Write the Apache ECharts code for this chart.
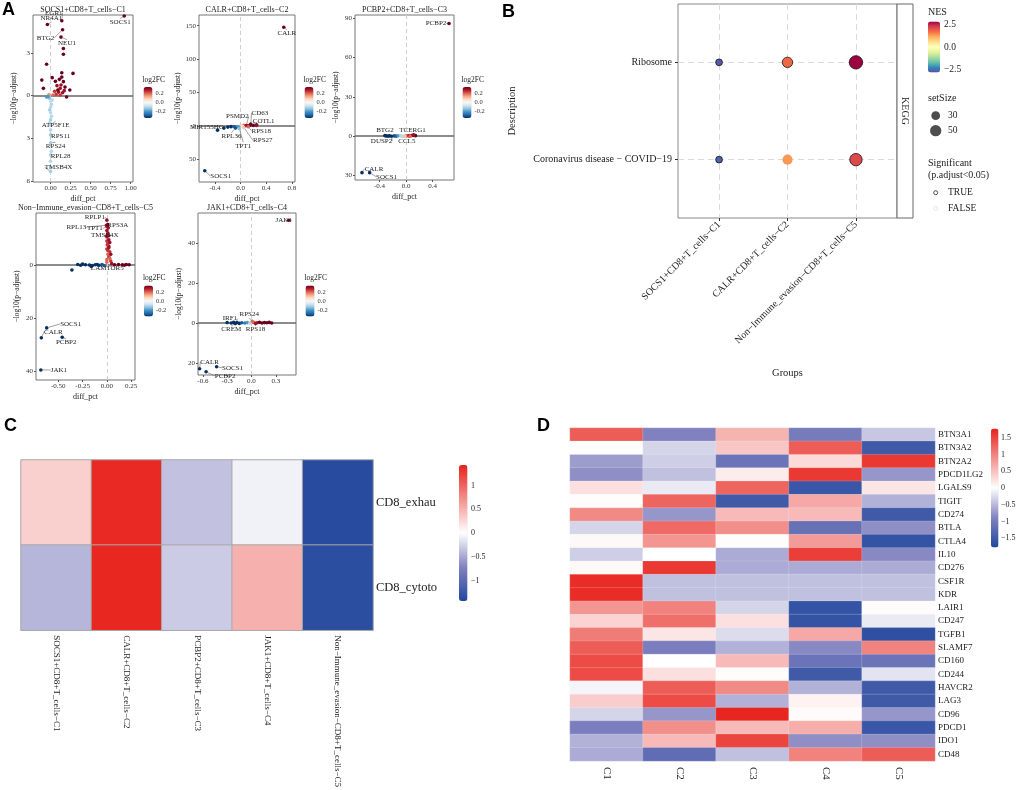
<!DOCTYPE html>
<html><head><meta charset="utf-8">
<script src="https://cdn.jsdelivr.net/npm/echarts@6/dist/echarts.min.js"></script>
<style>html,body{margin:0;padding:0;background:#fff}#main{width:1020px;height:790px}</style>
</head><body><div id="main"></div>
<script>
const SERIF = 'Liberation Serif';
// ---------------- Panel A data: [diff_pct, signed -log10(p-adjust), log2FC] ----------------
const c1Points = [
 [0.16,3.3,0.5],[0.16,2.9,0.5],[-0.05,2.2,0.45],[0.28,1.56,0.4],[0.02,1.26,0.4],[-0.11,1.09,0.4],
 [0.14,1.6,0.35],[0.11,1.14,0.35],[0.16,0.98,0.35],[0.12,0.51,0.3],[-0.09,0.51,0.35],[0.24,0.4,0.4],
 [0.08,0.7,0.3],[0.13,0.75,0.3],[0.05,0.3,0.25],[0.1,0.25,0.3],[0.15,0.2,0.3],[0.17,0.35,0.3],
 [0.2,-0.1,0.4],[0.07,0.1,0.25],[0.03,0.05,0.2],[0.12,0.05,0.25],[-0.02,0.08,0.15],[0.09,0.4,0.35],
 [0.18,0.6,0.35],[0.06,1.0,0.35],[0.14,1.3,0.4],
 [-0.01,-0.2,-0.1],[0.0,-0.4,-0.08],[0.01,-0.6,-0.1],[0.0,-0.8,-0.1],[-0.01,-1.0,-0.12],[0.0,-1.2,-0.1],
 [0.01,-1.45,-0.1],[0.0,-1.7,-0.12],[-0.01,-1.9,-0.1],[0.0,-2.4,-0.1],[-0.02,-0.15,-0.15],[0.02,-0.3,-0.1],
 [-0.03,-0.05,-0.2],[-0.05,-0.1,-0.2],[0.01,-3.9,-0.1],[0.0,-4.6,-0.1],[0.0,-5.0,-0.1]
];
const c1Genes = [
 ['SOCS1',0.92,5.58,0.5],['EGR1',0.14,5.25,0.4],['NR4A1',-0.04,4.98,0.45],['BTG2',0.15,4.62,0.4],
 ['NEU1',0.13,4.1,0.35],['ATP5F1E',0.0,-2.05,-0.1],['RPS11',0.0,-2.75,-0.12],['RPS24',0.0,-3.3,-0.12],
 ['RPL28',0.0,-4.15,-0.1],['TMSB4X',0.0,-5.3,-0.12]
];
const c2Points = [
 [-0.36,-6,-0.4],[0.0,0.5,0.1],[0.05,1.2,0.2],[0.1,0.8,0.3],[0.15,1.5,0.35],[0.2,1.0,0.35],[0.25,2.0,0.4],
 [0.07,0.3,0.2],[-0.05,-0.5,-0.2],[-0.1,-1.0,-0.3],[-0.15,-0.8,-0.35],[-0.2,-1.5,-0.4],[0.03,-0.3,0.05],
 [-0.03,-1.5,-0.2],[0.12,0.4,0.3]
];
const c2Genes = [
 ['CALR',0.675,147.6,0.5],['SOCS1',-0.56,-66.7,-0.5],['PSMD2',0.09,1,0.3],['CD63',0.16,3,0.35],
 ['COTL1',0.25,1,0.3],['RPS18',0.12,-1,0.2],['RPS27',0.05,-2,0.1],['TPT1',-0.02,-4,-0.15],
 ['RPL36',-0.08,-3,-0.3],['MIR155HG',-0.26,-3,-0.4]
];
const c3Points = [
 [-0.3,0.1,-0.45],[-0.27,-0.1,-0.4],[-0.25,0.2,-0.45],[-0.18,0.1,-0.3],[-0.15,-0.1,-0.3],[-0.12,0.2,-0.2],
 [-0.08,0.1,-0.1],[-0.05,-0.2,-0.1],[0.0,0.3,0.2],[0.03,0.2,0.25],[0.05,0.1,0.3],[0.08,0.4,0.35],
 [0.12,0.5,0.4],[0.14,0.3,0.4],[-0.02,0.1,0.1],[0.06,-0.1,0.2]
];
const c3Genes = [
 ['PCBP2',0.645,86,0.5],['CALR',-0.665,-28,-0.5],['SOCS1',-0.55,-28,-0.5],['BTG2',-0.32,0.3,-0.4],
 ['DUSP2',-0.22,-0.2,-0.35],['TCERG1',0.11,0.9,0.3],['CCL5',-0.02,-0.3,0.1]
];
const c5Points = [
 [0.0,13,0.3],[0.01,12,0.3],[0.02,11,0.3],[0.0,9,0.25],[0.01,8,0.25],[0.02,7,0.3],[0.0,6,0.25],
 [0.03,5,0.25],[0.01,4,0.2],[0.02,3,0.25],[0.0,2,0.2],[0.04,1.5,0.25],[0.03,2.5,0.2],[0.01,5.5,0.25],
 [0.02,9.5,0.3],[0.0,11,0.3],[0.015,14,0.3],[0.005,7.5,0.25],[0.03,8.5,0.3],[0.02,6.5,0.3],[0.04,4,0.3],
 [0.0,1,0.2],[0.05,0.5,0.3],
 [-0.3,0.2,-0.45],[-0.27,-0.1,-0.45],[-0.22,0.1,-0.4],[-0.18,0.0,-0.4],[-0.12,0.1,-0.4],[-0.08,-0.1,-0.35],
 [-0.05,0.2,-0.3],[-0.03,-0.2,-0.3],[-0.36,-1.9,-0.45],[-0.15,-0.2,-0.4],[-0.25,0.3,-0.4],[-0.1,0.2,-0.35],
 [0.08,0.1,0.35],[0.12,0.2,0.35],[0.16,0.1,0.4],[0.2,0.15,0.4],[0.23,0.1,0.45],[0.18,-0.1,0.4]
];
const c5Genes = [
 ['RPLP1',0.0,16.9,0.3],['RPL13',-0.005,15,0.3],['TPT1',0.0,14.5,0.3],['RPS3A',0.01,15.2,0.35],
 ['TMSB4X',0.0,10.6,0.3],['LAMTOR5',-0.16,-0.6,-0.4],['SOCS1',-0.62,-23.75,-0.5],['CALR',-0.675,-27.5,-0.5],
 ['PCBP2',-0.46,-27.3,-0.5],['JAK1',-0.68,-39.6,-0.5]
];
const c4Points = [
 [-0.3,0.2,-0.4],[-0.25,0.0,-0.4],[-0.22,0.3,-0.35],[-0.15,-0.2,-0.35],[-0.12,0.1,-0.3],[-0.08,0.0,-0.25],
 [-0.05,0.2,-0.2],[-0.02,-0.1,-0.1],[0.03,0.3,0.2],[0.07,0.1,0.3],[0.1,0.4,0.35],[0.13,0.0,0.35],
 [0.16,0.2,0.4],[0.19,0.1,0.4],[0.22,0.3,0.45],[0.25,0.0,0.45]
];
const c4Genes = [
 ['JAK1',0.46,51.4,0.5],['IRF1',-0.18,0.2,-0.4],['RPS24',0.01,0.85,0.2],['CREM',-0.2,-0.3,-0.4],
 ['RPS18',0.05,-0.3,0.3],['CALR',-0.64,-22.9,-0.5],['SOCS1',-0.43,-21.9,-0.5],['PCBP2',-0.56,-24.4,-0.5]
];
const volcanoTitles = ['SOCS1+CD8+T_cells−C1','CALR+CD8+T_cells−C2','PCBP2+CD8+T_cells−C3',
  'Non−Immune_evasion−CD8+T_cells−C5','JAK1+CD8+T_cells−C4'];
const fcTicks = [0.2, 0.0, -0.2];

// ---------------- Panel B data ----------------
const bGroups = ['SOCS1+CD8+T_cells−C1','CALR+CD8+T_cells−C2','Non−Immune_evasion−CD8+T_cells−C5'];
const bTerms = ['Coronavirus disease − COVID−19','Ribosome'];
const nesCovid = [-2.6, 1.3, 2.1];
const nesRibosome = [-2.7, 1.75, 2.8];
const sizeCovid = [18, 40, 60];
const sizeRibosome = [18, 42, 70];
const sigCovid = [true, false, true];
const sigRibosome = [true, true, true];
const nesTicks = [2.5, 0.0, -2.5];
const setSizeLegend = [30, 50];

// ---------------- Panel C data ----------------
const cGroups = ['SOCS1+CD8+T_cells−C1','CALR+CD8+T_cells−C2','PCBP2+CD8+T_cells−C3','JAK1+CD8+T_cells−C4','Non−Immune_evasion−CD8+T_cells−C5'];
const cRows = ['CD8_exhau','CD8_cytoto'];
const cExhau = [0.3, 1.38, -0.35, -0.08, -1.38];
const cCytoto = [-0.42, 1.4, -0.3, 0.5, -1.35];
const cTicks = [1, 0.5, 0, -0.5, -1];

// ---------------- Panel D data ----------------
const dCols = ['C1','C2','C3','C4','C5'];
const dGenes = ['BTN3A1','BTN3A2','BTN2A2','PDCD1LG2','LGALS9','TIGIT','CD274','BTLA','CTLA4','IL10','CD276','CSF1R','KDR',
  'LAIR1','CD247','TGFB1','SLAMF7','CD160','CD244','HAVCR2','LAG3','CD96','PDCD1','IDO1','CD48'];
const dC1 = [1.3,0.02,-0.7,-0.8,0.25,0.02,0.95,-0.3,0.05,-0.35,0.05,1.7,1.7,0.85,0.35,1.05,1.3,1.45,1.45,-0.08,0.4,-0.3,-0.95,-0.55,-0.6];
const dC2 = [-0.9,-0.3,-0.35,-0.45,-0.15,1.25,-0.75,1.2,0.85,0.0,1.6,-0.45,-0.45,1.0,1.15,0.2,-0.95,0.0,0.25,1.3,1.45,-0.75,0.9,0.55,-1.2];
const dC3 = [0.6,0.45,-1.1,0.15,1.25,-1.5,0.55,0.9,0.02,-0.6,-0.6,-0.45,-0.45,-0.3,0.25,-0.25,-0.55,0.55,0.02,0.95,-0.55,1.75,0.55,1.5,-0.45];
const dC4 = [-1.0,1.3,0.3,1.6,-1.55,0.7,0.55,-1.15,0.8,1.55,-0.6,-0.45,-0.45,-1.6,-1.6,0.7,-0.85,-1.1,-1.5,-0.55,0.1,0.03,0.65,-0.8,1.0];
const dC5 = [-0.4,-1.5,1.6,-0.75,0.2,-0.55,-1.5,-0.8,-1.6,-0.85,-0.6,-0.45,-0.45,0.03,-0.15,-1.65,1.0,-1.1,-0.2,-1.5,-1.5,-0.75,-1.55,-0.8,1.3];
const dTicks = [1.5, 1, 0.5, 0, -0.5, -1, -1.5];

// ---------------- styling / layout (not data) ----------------
const RdBu = ['#053061','#2166ac','#4393c3','#92c5de','#d1e5f0','#f7f7f7','#fddbc7','#f4a582','#d6604d','#b2182b','#67001f'];
const Spectral = ['#5e4fa2','#3288bd','#66c2a5','#abdda4','#e6f598','#ffffbf','#fee08b','#fdae61','#f46d43','#d53e4f','#9e0142'];
const heatCols = ['#21479d','#8282c0','#ffffff','#f2908c','#e8221c'];

const vGrids = [
  {left:33, top:15, width:100, height:167},
  {left:199, top:15, width:96, height:167},
  {left:355, top:15, width:99, height:165},
  {left:36, top:213, width:99, height:167},
  {left:198, top:213, width:98, height:162}
];
const vX = [
  {min:-0.22, max:1.03, ticks:[0,0.25,0.5,0.75,1], dec:2},
  {min:-0.65, max:0.85, ticks:[-0.4,0,0.4,0.8], dec:1},
  {min:-0.77, max:0.72, ticks:[-0.4,0,0.4], dec:1},
  {min:-0.73, max:0.29, ticks:[-0.5,-0.25,0,0.25], dec:2},
  {min:-0.66, max:0.55, ticks:[-0.6,-0.3,0,0.3], dec:1}
];
const vY = [
  {min:-6.05, max:5.65, ticks:[-6,-3,0,3]},
  {min:-83.5, max:166, ticks:[-50,0,50,100,150]},
  {min:-33.6, max:92.5, ticks:[-30,0,30,60,90]},
  {min:-43.4, max:19.6, ticks:[-40,-20,0]},
  {min:-26, max:55, ticks:[-20,0,20,40]}
];
const fcBars = [
  {left:143.5, top:87, w:9, h:31},
  {left:304.5, top:87, w:9, h:31},
  {left:462.5, top:87, w:9, h:31},
  {left:144, top:285.5, w:9, h:31},
  {left:305.5, top:285.5, w:9, h:31}
];
const labelShift = [
  {SOCS1:[-4,6],EGR1:[-8,-8],NR4A1:[4,-6],BTG2:[-17,8],NEU1:[6,6],ATP5F1E:[5,0],RPS11:[10,1],RPS24:[5,3],RPL28:[10,1],TMSB4X:[8,-4]},
  {CALR:[3,6],SOCS1:[16,5],PSMD2:[-9,-9],CD63:[9,-11],COTL1:[7,-4],RPS18:[13,4],RPS27:[19,13],TPT1:[4,17],RPL36:[-4,8],MIR155HG:[-17,-1]},
  {PCBP2:[-13,0],CALR:[12,-4],SOCS1:[17,4],BTG2:[0,-5],DUSP2:[-10,5],TCERG1:[-1,-5],CCL5:[2,5]},
  {RPLP1:[-12,-3],RPL13:[-30,2],TPT1:[-12,2],RPS3A:[10,0],TMSB4X:[-2,-2],LAMTOR5:[16,2],SOCS1:[24,-4],CALR:[12,-6],PCBP2:[4,5],JAK1:[18,0]},
  {JAK1:[-5,0],IRF1:[-7,-4],RPS24:[-3,-7],CREM:[-4,6],RPS18:[0,6],CALR:[10,-7],SOCS1:[16,1],PCBP2:[19,4]}
];

const allPts = [c1Points,c2Points,c3Points,c5Points,c4Points];
const allGenes = [c1Genes,c2Genes,c3Genes,c5Genes,c4Genes];

const grid = [], xAxis = [], yAxis = [], series = [], visualMap = [], graphic = [];
const axisText = {fontFamily:SERIF, color:'#333'};

function txt(text, x, y, size, opts) {
  opts = opts || {};
  const align = opts.align || 'left', va = opts.va || 'middle';
  return {type:'text', x:x, y:y, rotation:opts.rot || 0, silent:true, z:100,
    style:{text:text, font:(opts.weight||'normal')+' '+size+'px '+(opts.family||SERIF), fill:opts.color||'#222',
      align:align, verticalAlign:va, textAlign:align, textVerticalAlign:va}};
}

for (let i = 0; i < 5; i++) {
  const g = vGrids[i];
  grid.push({left:g.left, top:g.top, width:g.width, height:g.height, show:true, borderColor:'#777', borderWidth:1, containLabel:false});
  const xr = vX[i], yr = vY[i];
  xAxis.push({type:'value', gridIndex:i, min:xr.min, max:xr.max,
    axisLine:{show:false, onZero:false},
    axisTick:{show:true, customValues:xr.ticks, length:2, lineStyle:{color:'#555'}},
    axisLabel:{customValues:xr.ticks, formatter:(v)=>Number(v).toFixed(xr.dec), fontSize:7, margin:3, ...axisText},
    splitLine:{show:false},
    name:'diff_pct', nameLocation:'middle', nameGap:13, nameTextStyle:{fontSize:8, fontFamily:SERIF, color:'#222'}});
  yAxis.push({type:'value', gridIndex:i, min:yr.min, max:yr.max,
    axisLine:{show:false, onZero:false},
    axisTick:{show:true, customValues:yr.ticks, length:2, lineStyle:{color:'#555'}},
    axisLabel:{customValues:yr.ticks, formatter:(v)=>String(Math.abs(v)), fontSize:7, margin:3, ...axisText},
    splitLine:{show:false},
    name:'−log10(p−adjust)', nameLocation:'middle', nameGap:15, nameTextStyle:{fontSize:7.5, fontFamily:SERIF, color:'#222'}});
  const genes = allGenes[i], shifts = labelShift[i];
  series.push({type:'scatter', xAxisIndex:i, yAxisIndex:i, data:allPts[i], symbolSize:3.6, z:3,
    itemStyle:{opacity:1},
    markLine:{silent:true, symbol:['none','none'], label:{show:false}, z:2,
      data:[{yAxis:0, lineStyle:{color:'#666', width:1.5, type:'solid'}},
            {xAxis:0, lineStyle:{color:'#cfcfcf', width:1, type:[4,3]}}]}});
  series.push({type:'scatter', xAxisIndex:i, yAxisIndex:i, z:4,
    data:genes.map(g=>({name:g[0], value:[g[1],g[2],g[3]]})), symbolSize:3.6, itemStyle:{opacity:1},
    label:{show:true, formatter:'{b}', position:'inside', fontSize:7, fontFamily:SERIF, color:'#222'},
    labelLine:{show:true, lineStyle:{color:'#444', width:0.5}},
    labelLayout:(p)=>{const s = shifts[genes[p.dataIndex][0]] || [0,0]; return {dx:s[0], dy:s[1]};}});
  const b = fcBars[i];
  visualMap.push({type:'continuous', seriesIndex:[2*i, 2*i+1], dimension:2, min:-0.35, max:0.35,
    inRange:{color:RdBu}, calculable:false, hoverLink:false, left:b.left, top:b.top, itemWidth:b.w, itemHeight:b.h,
    padding:0, text:null, showLabel:false});
  graphic.push(txt('log2FC', b.left - 1, b.top - 7, 7.5));
  fcTicks.forEach(v => {
    const y = b.top + (0.35 - v) / 0.7 * b.h;
    graphic.push(txt(v.toFixed(1), b.left + b.w + 3, y, 6.5, {color:'#333'}));
  });
  graphic.push(txt(volcanoTitles[i], g.left + g.width/2, g.top - 5, 8, {align:'center'}));
}

// ---------------- Panel B ----------------
grid.push({left:678, top:4, width:219, height:214, show:true, borderColor:'#888', borderWidth:1});
xAxis.push({type:'value', gridIndex:5, min:-0.6, max:2.6,
  axisLine:{show:false, onZero:false},
  axisTick:{show:true, customValues:[0,1,2], length:3, lineStyle:{color:'#333'}},
  axisLabel:{customValues:[0,1,2], formatter:(v)=>bGroups[v], rotate:45, fontSize:10, margin:5, fontFamily:SERIF, color:'#222'},
  splitLine:{show:true, lineStyle:{type:[6,4], color:'#dadada', width:1}},
  name:'Groups', nameLocation:'middle', nameGap:150, nameTextStyle:{fontSize:10.5, fontFamily:SERIF, color:'#222'}});
yAxis.push({type:'value', gridIndex:5, min:-0.6, max:1.6,
  axisLine:{show:false, onZero:false},
  axisTick:{show:true, customValues:[0,1], length:3, lineStyle:{color:'#333'}},
  axisLabel:{customValues:[0,1], formatter:(v)=>bTerms[v], fontSize:10, margin:6, fontFamily:SERIF, color:'#222'},
  splitLine:{show:true, lineStyle:{type:[6,4], color:'#dadada', width:1}},
  name:'Description', nameLocation:'middle', nameGap:160, nameTextStyle:{fontSize:10.5, fontFamily:SERIF, color:'#222'}});
const sizeFn = (s) => Math.sqrt(s) * 1.6;
const bData = [];
[[nesCovid, sizeCovid, sigCovid], [nesRibosome, sizeRibosome, sigRibosome]].forEach((row, t) => {
  row[0].forEach((nes, gi) => {
    bData.push({value:[gi, t, nes, row[1][gi]],
      itemStyle:{borderColor: row[2][gi] ? '#111' : 'rgba(0,0,0,0)', borderWidth:0.8, opacity:1}});
  });
});
series.push({type:'scatter', xAxisIndex:5, yAxisIndex:5, data:bData, symbol:'circle',
  symbolSize:(v)=>sizeFn(v[3]), z:5, itemStyle:{opacity:1}});
visualMap.push({type:'continuous', seriesIndex:10, dimension:2, min:-2.8, max:2.8, inRange:{color:Spectral},
  calculable:false, hoverLink:false, left:928, top:21.5, itemWidth:12, itemHeight:51, padding:0, text:null});
graphic.push(txt('NES', 928, 12, 10));
nesTicks.forEach(v => {
  const y = 21.5 + (2.8 - v) / 5.6 * 51;
  graphic.push(txt(v === 0 ? '0.0' : (v < 0 ? '−' : '') + Math.abs(v).toFixed(1), 944, y, 9.5));
});
graphic.push(txt('setSize', 928, 98, 10));
setSizeLegend.forEach((s, k) => {
  const cy = 115.7 + k * 15;
  graphic.push({type:'circle', shape:{cx:935.7, cy:cy, r:sizeFn(s)/2}, style:{fill:'#4d4d4d'}, silent:true});
  graphic.push(txt(String(s), 948, cy, 9.5));
});
graphic.push(txt('Significant', 928, 163.5, 10));
graphic.push(txt('(p.adjust<0.05)', 928, 175.5, 10));
graphic.push({type:'circle', shape:{cx:935.7, cy:192.7, r:2}, style:{fill:'#fff', stroke:'#222', lineWidth:0.8}, silent:true});
graphic.push(txt('TRUE', 948, 192.7, 9.5));
graphic.push({type:'circle', shape:{cx:935.7, cy:208.3, r:2}, style:{fill:'#fff', stroke:'#ddd', lineWidth:0.8}, silent:true});
graphic.push(txt('FALSE', 948, 208.3, 9.5));
graphic.push({type:'rect', shape:{x:897, y:4, width:16, height:214}, style:{fill:'#fff', stroke:'#666', lineWidth:1}, silent:true, z:50});
graphic.push(txt('KEGG', 905, 111, 10, {align:'center', rot:-Math.PI/2}));

// ---------------- Panel C ----------------
grid.push({left:21, top:460, width:352, height:176});
xAxis.push({type:'category', gridIndex:6, data:cGroups, position:'bottom',
  axisLine:{show:false}, axisTick:{show:false},
  axisLabel:{rotate:-90, fontSize:9, margin:5, fontFamily:SERIF, color:'#222', interval:0}, splitLine:{show:false}});
yAxis.push({type:'category', gridIndex:6, data:cRows, inverse:true, position:'right',
  axisLine:{show:false}, axisTick:{show:false},
  axisLabel:{fontSize:12.5, margin:3, fontFamily:SERIF, color:'#222'}, splitLine:{show:false}});
const cData = [];
cExhau.forEach((v, j) => cData.push([j, 0, v]));
cCytoto.forEach((v, j) => cData.push([j, 1, v]));
series.push({type:'heatmap', xAxisIndex:6, yAxisIndex:6, data:cData,
  itemStyle:{borderColor:'#a8a8a8', borderWidth:1}, emphasis:{disabled:true}});
visualMap.push({type:'continuous', seriesIndex:11, dimension:2, min:-1.43, max:1.43, inRange:{color:heatCols},
  calculable:false, hoverLink:false, left:459, top:465, itemWidth:8.5, itemHeight:136, padding:0, text:null});
cTicks.forEach(v => {
  const y = 465 + (1.43 - v) / 2.86 * 136;
  graphic.push(txt((v < 0 ? '−' : '') + String(Math.abs(v)), 471, y, 8));
});

// ---------------- Panel D ----------------
grid.push({left:570, top:428, width:365, height:333});
xAxis.push({type:'category', gridIndex:7, data:dCols, position:'bottom',
  axisLine:{show:false}, axisTick:{show:false},
  axisLabel:{rotate:-90, fontSize:11, margin:6, fontFamily:SERIF, color:'#222', interval:0}, splitLine:{show:false}});
yAxis.push({type:'category', gridIndex:7, data:dGenes, inverse:true, position:'right',
  axisLine:{show:false}, axisTick:{show:false},
  axisLabel:{fontSize:9, margin:3, fontFamily:SERIF, color:'#222', interval:0}, splitLine:{show:false}});
const dData = [];
[dC1, dC2, dC3, dC4, dC5].forEach((col, j) => col.forEach((v, r) => dData.push([j, r, v])));
series.push({type:'heatmap', xAxisIndex:7, yAxisIndex:7, data:dData,
  itemStyle:{borderColor:'rgba(255,255,255,0.35)', borderWidth:0.5}, emphasis:{disabled:true}});
visualMap.push({type:'continuous', seriesIndex:12, dimension:2, min:-1.78, max:1.78, inRange:{color:heatCols},
  calculable:false, hoverLink:false, left:991, top:428.5, itemWidth:7.5, itemHeight:119, padding:0, text:null});
dTicks.forEach(v => {
  const y = 428.5 + (1.78 - v) / 3.56 * 119;
  graphic.push(txt((v < 0 ? '−' : '') + String(Math.abs(v)), 1001, y, 8));
});

// panel letters
graphic.push(txt('A', 2, 10, 18, {weight:'bold', family:'"Liberation Sans"', color:'#000'}));
graphic.push(txt('B', 502, 12, 18, {weight:'bold', family:'"Liberation Sans"', color:'#000'}));
graphic.push(txt('C', 4, 426, 18, {weight:'bold', family:'"Liberation Sans"', color:'#000'}));
graphic.push(txt('D', 537, 426, 18, {weight:'bold', family:'"Liberation Sans"', color:'#000'}));

const chart = echarts.init(document.getElementById('main'), null, {renderer:'canvas'});
chart.setOption({
  animation:false,
  backgroundColor:'#fff',
  textStyle:{fontFamily:SERIF},
  grid, xAxis, yAxis, series, visualMap, graphic
});
</script></body></html>
